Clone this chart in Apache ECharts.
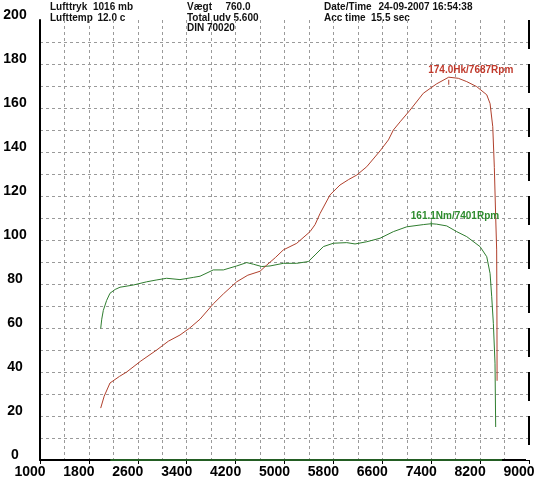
<!DOCTYPE html>
<html>
<head>
<meta charset="utf-8">
<script src="https://cdn.jsdelivr.net/npm/echarts@6/dist/echarts.min.js"></script>
<style>
html,body{margin:0;padding:0;background:#fff;}
#c{width:535px;height:480px;}
</style>
</head>
<body>
<div id="c"></div>
<script>
// ---- data ----
const powerRpm = [1993,2050,2145,2300,2418,2650,2909,3100,3290,3450,3618,3836,4000,4218,4400,4600,4709,4850,4981,5200,5418,5500,5581,5745,5908,6050,6181,6345,6563,6700,6781,6900,7053,7271,7490,7687,7844,7981,8145,8309,8363,8407,8433,8455,8471,8476,8478];
const powerHk  = [23.6,29,35,38,40,45,50,54,56.8,60,64,71,75.5,81,84,85.8,88.6,92,95.5,98.5,103.8,107,112,120.5,125,127.5,129.5,133.3,140.5,145.5,150,154,159,166.7,171,174,173.5,172,169.7,166,162,151.5,133,110.6,95.5,60,36];
const torqueRpm = [1993,2010,2036,2090,2145,2230,2309,2527,2745,2900,3072,3290,3508,3618,3836,4000,4218,4382,4490,4627,4763,4981,5200,5390,5500,5636,5800,6018,6154,6345,6563,6781,7000,7271,7401,7490,7654,7817,7981,8199,8309,8363,8390,8417,8444,8455];
const torqueNm  = [89.7,96,102,108.8,113.7,116.3,117.8,119.3,121.5,122.7,123.9,123,124.5,125.3,129.6,129.6,132.3,134.6,133.5,131.9,132.3,134.1,134.1,135.3,139.8,145.5,147.8,148.2,147.3,148.8,151.2,155.7,159,160.5,161.1,160.8,159.6,155.7,152.3,145.5,138.6,127.2,111.3,93,66,22.5];
const baseRpm = [2150,8560];
const baseVal = [0,0];
const peakPower = {rpm:7687, value:174.0, text:'174.0Hk/7687Rpm'};
const peakTorque = {rpm:7401, value:161.1, text:'161.1Nm/7401Rpm'};
const headerLabels = [['Lufttryk','1016 mb'],['Lufttemp','12.0 c'],['Vægt','760.0'],['Total udv','5.600'],['DIN 70020',''],['Date/Time','24-09-2007 16:54:38'],['Acc time','15.5 sec']];

const zip = (a,b) => a.map((v,i)=>[v,b[i]]);
const RED = '#b0402c', GREEN = '#2f7d2f';
const F = 'Liberation Sans, Arial, sans-serif';
const HF = 'bold 10px "Liberation Sans", Arial, sans-serif';

// [label x, row centre y, value x (null = same string)]
const hdrPos = [[50,7,93],[50,18,97.5],[187,7,225.5],[187,18,null],[187,28.5,null],[324,7,378.5],[324,18,371]];
const graphics = [];
headerLabels.forEach((h,i)=>{
  const p = hdrPos[i];
  const txt = p[2]===null ? (h[1] ? h[0]+' '+h[1] : h[0]) : h[0];
  graphics.push({type:'text', x:p[0], y:p[1], style:{text:txt, font:HF, fill:'#111', verticalAlign:'middle'}});
  if(p[2]!==null){
    graphics.push({type:'text', x:p[2], y:p[1], style:{text:h[1], font:HF, fill:'#111', verticalAlign:'middle'}});
  }
});

const chart = echarts.init(document.getElementById('c'), null, {renderer:'canvas'});
const gridLine = {show:true, lineStyle:{color:'#9a9a9a', type:[3,3], width:1}};
const plain = v => String(v);
chart.setOption({
  animation:false,
  backgroundColor:'#fff',
  graphic: graphics,
  grid:{left:40, right:6, top:20, bottom:20, containLabel:false, outerBoundsMode:'none'},
  xAxis:{
    type:'value', min:1000, max:9000, interval:800,
    axisLine:{show:true, onZero:false, lineStyle:{color:'#000', width:2}},
    axisTick:{show:true, length:4, lineStyle:{color:'#000'}},
    axisLabel:{margin:5, formatter:plain, color:'#000', fontFamily:F, fontWeight:'bold', fontSize:14, padding:[0,20,0,0], showMinLabel:true, showMaxLabel:true, hideOverlap:false},
    splitLine:Object.assign({showMinLine:false, showMaxLine:false}, gridLine),
    minorTick:{show:false, splitNumber:2},
    minorSplitLine:gridLine
  },
  yAxis:[{
    type:'value', min:0, max:200, interval:20, position:'left',
    axisLine:{show:true, onZero:false, lineStyle:{color:'#000', width:2}},
    axisTick:{show:false},
    axisLabel:{margin:25, formatter:plain, align:'center', verticalAlign:'bottom', lineHeight:10, color:'#000', fontFamily:F, fontWeight:'bold', fontSize:14},
    splitLine:Object.assign({showMinLine:false, showMaxLine:false}, gridLine),
    minorTick:{show:false, splitNumber:2},
    minorSplitLine:gridLine
  },{
    type:'value', min:0, max:300, interval:30, position:'right',
    axisLine:{show:true, onZero:false, lineStyle:{color:'#000', width:2}},
    axisTick:{show:false},
    axisLabel:{margin:-3, formatter:plain, align:'left', verticalAlign:'bottom', lineHeight:15, backgroundColor:'#fff', padding:[0,0,0,9], color:'#000', fontFamily:F, fontWeight:'bold', fontSize:14},
    splitLine:{show:false}
  }],
  series:[{
    type:'line', name:'base', yAxisIndex:0, data:zip(baseRpm,baseVal), showSymbol:false, clip:false,
    lineStyle:{color:GREEN, width:1.5}, z:1
  },{
    type:'line', name:'Hk', yAxisIndex:0, data:zip(powerRpm,powerHk), showSymbol:false,
    lineStyle:{color:RED, width:1}, z:3,
    markPoint:{
      symbol:'rect', symbolSize:[1,5], symbolOffset:[0,5], itemStyle:{color:RED},
      label:{show:true, position:[-20,-9.5], align:'left', verticalAlign:'middle', formatter:peakPower.text, color:'#c0392b', fontFamily:F, fontWeight:'bold', fontSize:10},
      data:[{coord:[peakPower.rpm, peakPower.value]}]
    }
  },{
    type:'line', name:'Nm', yAxisIndex:1, data:zip(torqueRpm,torqueNm), showSymbol:false,
    lineStyle:{color:GREEN, width:1}, z:2,
    markPoint:{
      symbol:'rect', symbolSize:[1,5], itemStyle:{color:GREEN},
      label:{show:true, position:[-20,-5], align:'left', verticalAlign:'middle', formatter:peakTorque.text, color:'#2e8b2e', fontFamily:F, fontWeight:'bold', fontSize:10},
      data:[{coord:[peakTorque.rpm, peakTorque.value]}]
    }
  }]
});
</script>
</body>
</html>
